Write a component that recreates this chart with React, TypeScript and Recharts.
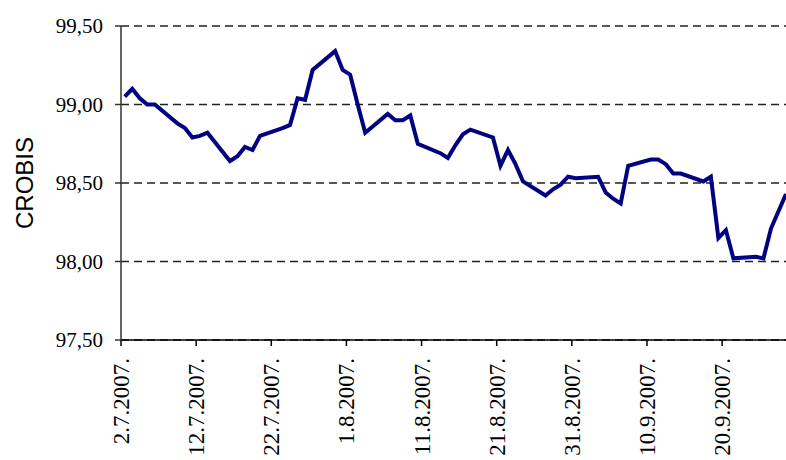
import React from 'react';
import { LineChart, Line, XAxis, YAxis, CartesianGrid } from 'recharts';

// business days, dd.mm. (year 2007)
const dates = [
  '2.7', '3.7', '4.7', '5.7', '6.7', '9.7', '10.7', '11.7', '12.7', '13.7',
  '16.7', '17.7', '18.7', '19.7', '20.7', '23.7', '24.7', '25.7', '26.7', '27.7',
  '30.7', '31.7', '1.8', '2.8', '3.8', '6.8', '7.8', '8.8', '9.8', '10.8',
  '13.8', '14.8', '15.8', '16.8', '17.8', '20.8', '21.8', '22.8', '23.8', '24.8',
  '27.8', '28.8', '29.8', '30.8', '31.8', '3.9', '4.9', '5.9', '6.9', '7.9',
  '10.9', '11.9', '12.9', '13.9', '14.9', '17.9', '18.9', '19.9', '20.9', '21.9',
  '24.9', '25.9', '26.9', '27.9', '28.9',
];

const crobis = [
  99.05, 99.10, 99.04, 99.00, 99.00, 98.88, 98.85, 98.79, 98.80, 98.82,
  98.64, 98.67, 98.73, 98.71, 98.80, 98.85, 98.87, 99.04, 99.03, 99.22,
  99.34, 99.22, 99.19, 99.00, 98.82, 98.94, 98.90, 98.90, 98.93, 98.75,
  98.69, 98.66, 98.74, 98.81, 98.84, 98.79, 98.61, 98.71, 98.62, 98.51,
  98.42, 98.46, 98.49, 98.54, 98.53, 98.54, 98.44, 98.40, 98.37, 98.61,
  98.65, 98.65, 98.62, 98.56, 98.56, 98.51, 98.54, 98.15, 98.20, 98.02,
  98.03, 98.02, 98.21, 98.32, 98.43,
];

const xTickLabels = [
  '2.7.2007.', '12.7.2007.', '22.7.2007.', '1.8.2007.', '11.8.2007.',
  '21.8.2007.', '31.8.2007.', '10.9.2007.', '20.9.2007.',
];

const yTicks = [97.5, 98, 98.5, 99, 99.5];

const START = Date.UTC(2007, 6, 2);
const DAY = 86400000;

const dayOffset = (s: string) => {
  const [d, m] = s.replace(/\.$/, '').split('.').map(Number);
  return Math.round((Date.UTC(2007, m - 1, d) - START) / DAY);
};

// points sit in the middle of their day slot
const data = dates.map((d, i) => ({ day: dayOffset(d) + 0.5, value: crobis[i] }));
const xTicks = xTickLabels.map((l) => dayOffset(l.slice(0, -6)));
const labelByDay: Record<number, string> = {};
xTicks.forEach((t, i) => (labelByDay[t] = xTickLabels[i]));

// force the serif face even if some stylesheet overrides svg text
const forceSerif = (el: SVGTextElement | null) => {
  if (el) el.style.setProperty('font-family', '"Liberation Serif", serif', 'important');
};

const DateTick = (props: any) => {
  const { x, y, payload } = props;
  return (
    <g transform={`translate(${x},${y})`}>
      <text
        ref={forceSerif}
        transform="rotate(-90)"
        x={-10}
        y={0}
        dy="0.35em"
        textAnchor="end"
        fill="#000"
        fontSize={23}
      >
        {labelByDay[payload.value]}
      </text>
    </g>
  );
};

const ValueTick = (props: any) => {
  const { x, y, payload } = props;
  return (
    <text ref={forceSerif} x={x} y={y} dy="0.35em" textAnchor="end" fill="#000" fontSize={21}>
      {payload.value.toFixed(2).replace('.', ',')}
    </text>
  );
};

const App: React.FC = () => {
  return (
    <div style={{ position: 'absolute', left: 0, top: 0, width: 786, height: 460, background: '#fff' }}>
      <LineChart width={786} height={460} data={data} margin={{ top: 26, right: 0, bottom: 0, left: 0 }}>
        <CartesianGrid vertical={false} stroke="#222" strokeDasharray="8 5" strokeWidth={1.3} />
        <XAxis
          dataKey="day"
          type="number"
          domain={[0, 88.5]}
          ticks={xTicks}
          allowDataOverflow
          height={120}
          tickSize={6}
          tickMargin={2}
          interval={0}
          stroke="#000"
          strokeWidth={1.5}
          tick={<DateTick />}
        />
        <YAxis
          type="number"
          domain={[97.5, 99.5]}
          ticks={yTicks}
          width={121}
          tickSize={6}
          tickMargin={12}
          stroke="#333"
          strokeWidth={1.5}
          tick={<ValueTick />}
          label={{
            value: 'CROBIS',
            angle: -90,
            position: 'insideLeft',
            offset: 24,
            style: { textAnchor: 'middle', fontFamily: 'Liberation Sans', fontSize: 24, fill: '#000' },
          }}
        />
        <Line
          type="linear"
          dataKey="value"
          stroke="#000080"
          strokeWidth={4}
          dot={false}
          isAnimationActive={false}
        />
      </LineChart>
    </div>
  );
};

export default App;
